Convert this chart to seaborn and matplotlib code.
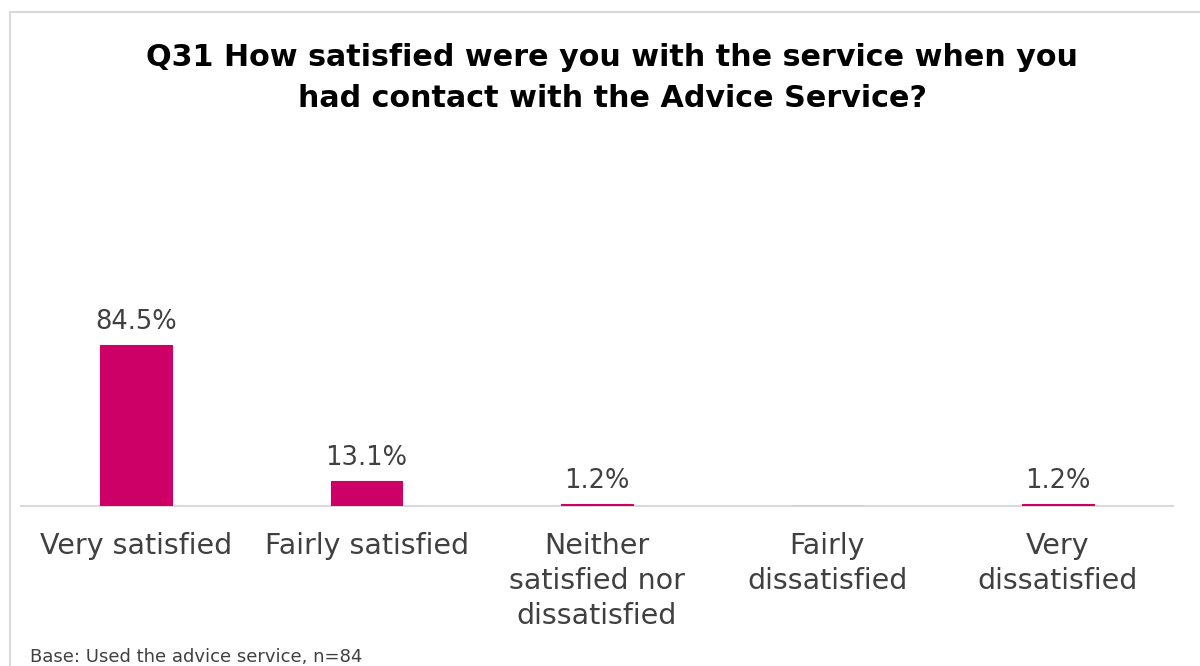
import pandas as pd
import matplotlib.pyplot as plt
import matplotlib.patches as mpatches
import seaborn as sns

# Data
categories = ["Very satisfied", "Fairly satisfied", "Neither\nsatisfied nor\ndissatisfied",
              "Fairly\ndissatisfied", "Very\ndissatisfied"]
percent = [84.5, 13.1, 1.2, 0.0, 1.2]
value_labels = ["84.5%", "13.1%", "1.2%", "", "1.2%"]

df = pd.DataFrame({"answer": categories, "percent": percent})

sns.set_theme(style="white")
plt.rcParams["font.family"] = ["DejaVu Sans"]

fig = plt.figure(figsize=(12, 6.66), dpi=100)
ax = fig.add_axes([21 / 1200, 1 - 506 / 666, (1173 - 21) / 1200, 190.5 / 666])

sns.barplot(data=df, x="answer", y="percent", color="#CC0066", width=0.31,
            saturation=1, ax=ax, zorder=3, edgecolor="#CC0066", linewidth=0.8)
ax.set_ylim(0, 100)
ax.set_xlim(-0.5, 4.5)

ax.bar_label(ax.containers[0], labels=value_labels, padding=7,
             fontsize=18.5, color="#404040")

ax.set_xlabel("")
ax.set_ylabel("")
ax.set_yticks([])
ax.tick_params(axis="x", length=0, pad=19, labelsize=20.5, labelcolor="#404040")
for lbl in ax.get_xticklabels():
    lbl.set_linespacing(1.32)
for s in ["top", "right", "left"]:
    ax.spines[s].set_visible(False)
ax.spines["bottom"].set_color("#D9D9D9")
ax.spines["bottom"].set_linewidth(1.5)
ax.spines["bottom"].set_zorder(1)

# outer chart frame
fig.patches.append(mpatches.Rectangle((10 / 1200, -0.05), 1.2, 1 - 12 / 666 + 0.05,
                                      transform=fig.transFigure, fill=False,
                                      edgecolor="#D9D9D9", linewidth=1.5))

fig.text(612 / 1200, 1 - 78 / 666,
         "Q31 How satisfied were you with the service when you\nhad contact with the Advice Service?",
         ha="center", va="center", fontsize=21.7, fontweight="bold", color="#000000",
         linespacing=1.55)

fig.text(30 / 1200, 1 - 657 / 666, "Base: Used the advice service, n=84",
         ha="left", va="center", fontsize=13, color="#404040")

plt.savefig("out.png", dpi=100)
